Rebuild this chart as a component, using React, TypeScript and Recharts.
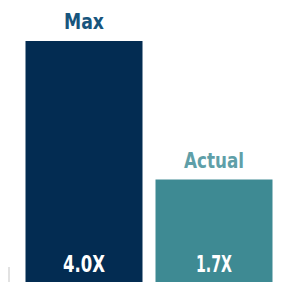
import { BarChart, Bar, XAxis, YAxis, Cell, LabelList } from 'recharts';

const categories = ['Max', 'Actual'];
const multiples = [4.0, 1.7];
const valueLabels = ['4.0X', '1.7X'];

const barColors = ['#032c52', '#3e8a93'];
const nameColors = ['#17557d', '#5f9fa8'];

// rendered widths of the condensed label text in the reference
const nameWidths = [40, 60];
const valueWidths = [42, 36];

const data = categories.map((name, i) => ({ name, value: multiples[i], label: valueLabels[i] }));

const FONT = '"DejaVu Sans Condensed", "DejaVu Sans", sans-serif';

const NameLabel = (props: any) => {
  const { x, y, width, index } = props;
  return (
    <text
      x={x + width / 2}
      y={y - 12}
      textAnchor="middle"
      fontFamily={FONT}
      fontWeight="bold"
      fontSize={22}
      fill={nameColors[index]}
      textLength={nameWidths[index]}
      lengthAdjust="spacingAndGlyphs"
    >
      {categories[index]}
    </text>
  );
};

const ValueLabel = (props: any) => {
  const { x, y, width, height, index } = props;
  return (
    <text
      x={x + width / 2}
      y={y + height - 10}
      textAnchor="middle"
      fontFamily={FONT}
      fontWeight="bold"
      fontSize={23}
      fill="#ffffff"
      textLength={valueWidths[index]}
      lengthAdjust="spacingAndGlyphs"
    >
      {valueLabels[index]}
    </text>
  );
};

export default function App() {
  return (
    <div style={{ position: 'absolute', left: 0, top: 0, width: 284, height: 282, background: '#fff' }}>
      <BarChart
        width={284}
        height={282}
        data={data}
        margin={{ top: 41, right: 5.5, left: 18.5, bottom: 0 }}
        barCategoryGap={6.5}
      >
        <XAxis dataKey="name" hide />
        <YAxis domain={[0, 4]} hide />
        <Bar dataKey="value" barSize={117} isAnimationActive={false}>
          {data.map((d, i) => (
            <Cell key={d.name} fill={barColors[i]} />
          ))}
          <LabelList dataKey="name" content={NameLabel} />
          <LabelList dataKey="label" content={ValueLabel} />
        </Bar>
      </BarChart>
      <div style={{ position: 'absolute', left: 8, top: 267, width: 2, height: 15, background: '#e2e2e2' }} />
    </div>
  );
}
